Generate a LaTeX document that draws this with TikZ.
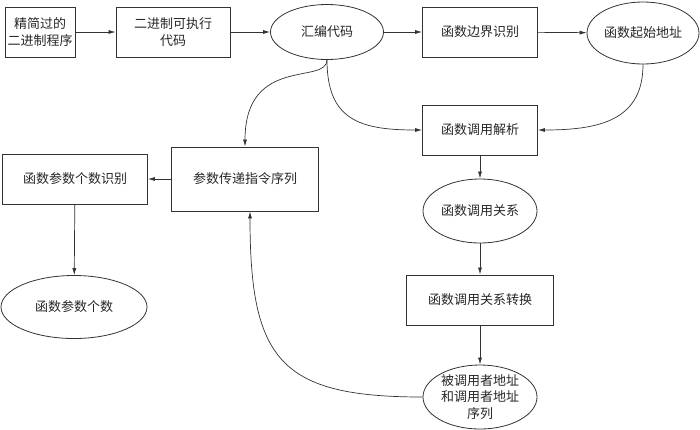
\documentclass[tikz,border=0pt]{standalone}
\usepackage{fontspec}
\setmainfont{Noto Sans CJK SC}
\usetikzlibrary{shapes.geometric,arrows.meta}
\begin{document}
\begin{tikzpicture}[x=1pt,y=-1pt,
  every node/.style={font=\fontsize{13}{16.5}\selectfont, text=black!85, align=center, inner sep=0pt},
  box/.style={draw=black!80, line width=0.8pt, rectangle},
  oval/.style={draw=black!80, line width=0.8pt, ellipse},
  conn/.style={draw=black!80, line width=0.7pt, -{Latex[length=7pt,width=4pt]}}]
\useasboundingbox (0,0) rectangle (700,429);
\node[box, minimum width=70, minimum height=50] (A) at (40,32) {精简过的\\二进制程序};
\node[box, minimum width=114, minimum height=50] (B) at (173,32) {二进制可执行\\代码};
\node[oval, minimum width=113, minimum height=55] (C) at (327,32) {汇编代码};
\node[box, minimum width=115, minimum height=50] (D) at (480,32) {函数边界识别};
\node[oval, minimum width=112, minimum height=62] (E) at (643,33) {函数起始地址};
\node[box, minimum width=115, minimum height=50] (F) at (480,130) {函数调用解析};
\node[oval, minimum width=114, minimum height=64] (G) at (480,211) {函数调用关系};
\node[box, minimum width=147, minimum height=50] (H) at (480,300) {函数调用关系转换};
\node[oval, minimum width=114, minimum height=64] (I) at (480,397) {被调用者地址\\和调用者地址\\序列};
\node[box, minimum width=147, minimum height=64] (J) at (245,179) {参数传递指令序列};
\node[box, minimum width=145, minimum height=50] (K) at (75,179) {函数参数个数识别};
\node[oval, minimum width=146, minimum height=63] (L) at (74,307) {函数参数个数};

\draw[conn] (A) -- (B);
\draw[conn] (B) -- (C);
\draw[conn] (C) -- (D);
\draw[conn] (D) -- (E);
\draw[conn] (C.south) .. controls (327,85) and (245,55) .. (J.north);
\draw[conn] (C.south) .. controls (327,120) and (360,130) .. (F.west);
\draw[conn] (E.south) .. controls (643,120) and (600,130) .. (F.east);
\draw[conn] (F) -- (G);
\draw[conn] (G) -- (H);
\draw[conn] (H) -- (I);
\draw[conn] (I.west) .. controls (280,397) and (250,360) .. ([xshift=5pt]J.south);
\draw[conn] (J) -- (K);
\draw[conn] (K) -- (L);
\end{tikzpicture}
\end{document}
